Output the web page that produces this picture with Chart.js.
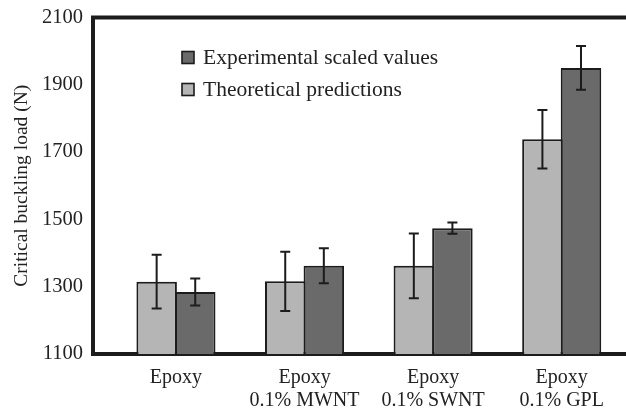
<!DOCTYPE html>
<html>
<head>
<meta charset="utf-8">
<script src="https://cdn.jsdelivr.net/npm/chart.js@4/dist/chart.umd.min.js"></script>
<style>
  html, body { margin: 0; padding: 0; background: #fff; }
  #wrap { width: 626px; height: 408px; position: relative; }
</style>
</head>
<body>
<div id="wrap"><canvas id="c"></canvas></div>
<script>
// Specimen groups
const categories = [
  ['Epoxy'],
  ['Epoxy', '0.1% MWNT'],
  ['Epoxy', '0.1% SWNT'],
  ['Epoxy', '0.1% GPL']
];

// Critical buckling load (N) and error half-widths
const theoretical = [1315, 1316, 1362, 1738];
const theoreticalErr = [80, 88, 96, 87];
const experimental = [1284, 1362, 1474, 1950];
const experimentalErr = [40, 52, 17, 65];

const yTicks = [1100, 1300, 1500, 1700, 1900, 2100];

const INK = '#1c1c1c';
const TEXT = '#222';
const SERIF = '"Liberation Serif", "DejaVu Serif", serif';

const toPoints = vals => vals.map((v, i) => ({ x: i, y: v }));

// Error bars drawn through the y scale
const errorBars = {
  id: 'errorBars',
  afterDatasetsDraw(chart) {
    const ctx = chart.ctx;
    const y = chart.scales.y;
    chart.data.datasets.forEach((ds, di) => {
      const meta = chart.getDatasetMeta(di);
      meta.data.forEach((bar, i) => {
        const v = ds.data[i].y, e = ds.errors[i];
        const yTop = y.getPixelForValue(v + e);
        const yBot = y.getPixelForValue(v - e);
        const cap = 5;
        ctx.save();
        ctx.strokeStyle = INK;
        ctx.lineWidth = 2;
        ctx.beginPath();
        ctx.moveTo(bar.x, yTop); ctx.lineTo(bar.x, yBot);
        ctx.moveTo(bar.x - cap, yTop); ctx.lineTo(bar.x + cap, yTop);
        ctx.moveTo(bar.x - cap, yBot); ctx.lineTo(bar.x + cap, yBot);
        ctx.stroke();
        ctx.restore();
      });
    });
  }
};

// Top frame line and the in-plot legend
const frameAndLegend = {
  id: 'frameAndLegend',
  afterDraw(chart) {
    const ctx = chart.ctx;
    const a = chart.chartArea;
    ctx.save();
    ctx.strokeStyle = INK;
    ctx.lineWidth = 4;
    ctx.beginPath();
    ctx.moveTo(a.left - 2, a.top);
    ctx.lineTo(a.right, a.top);
    ctx.stroke();

    const order = [1, 0];
    const bx = a.left + 89, by0 = a.top + 40, rowH = 32, box = 12;
    ctx.font = '21.5px ' + SERIF;
    ctx.textBaseline = 'middle';
    ctx.textAlign = 'left';
    order.forEach((di, r) => {
      const ds = chart.data.datasets[di];
      const cy = by0 + r * rowH;
      ctx.fillStyle = ds.backgroundColor;
      ctx.fillRect(bx, cy - box / 2, box, box);
      ctx.lineWidth = 1.6;
      ctx.strokeStyle = INK;
      ctx.strokeRect(bx, cy - box / 2, box, box);
      ctx.fillStyle = TEXT;
      ctx.fillText(ds.label, bx + 21, cy + 1);
    });
    ctx.restore();
  }
};

new Chart(document.getElementById('c'), {
  type: 'bar',
  data: {
    datasets: [
      {
        label: 'Theoretical predictions',
        data: toPoints(theoretical),
        errors: theoreticalErr,
        backgroundColor: '#b5b5b5',
        borderColor: INK,
        borderWidth: 2,
        borderSkipped: false
      },
      {
        label: 'Experimental scaled values',
        data: toPoints(experimental),
        errors: experimentalErr,
        backgroundColor: '#6a6a6a',
        borderColor: INK,
        borderWidth: 2,
        borderSkipped: false
      }
    ]
  },
  options: {
    responsive: true,
    maintainAspectRatio: false,
    animation: false,
    devicePixelRatio: 1,
    categoryPercentage: 0.6,
    barPercentage: 1.05,
    layout: { padding: { top: 17.5, right: 0, left: 0, bottom: 0 } },
    plugins: {
      legend: { display: false },
      tooltip: { enabled: false }
    },
    scales: {
      x: {
        type: 'linear',
        offset: false,
        min: -0.645,
        max: 3.5,
        grid: { display: false, drawTicks: false, offset: false },
        border: { display: true, width: 4, color: INK },
        afterBuildTicks(scale) {
          scale.ticks = categories.map((c, i) => ({ value: i }));
        },
        afterFit(scale) {
          scale.height = 54;
          scale.paddingLeft = 0;
          scale.paddingRight = 0;
        },
        ticks: {
          autoSkip: false,
          maxRotation: 0,
          padding: 12,
          color: TEXT,
          font: { family: SERIF, size: 20, lineHeight: 1.15 },
          callback: v => categories[v]
        }
      },
      y: {
        min: 1100,
        max: 2100,
        grid: { display: false, drawTicks: false },
        border: { display: true, width: 4, color: INK },
        afterBuildTicks(scale) {
          scale.ticks = yTicks.map(v => ({ value: v }));
        },
        afterFit(scale) {
          scale.width = 93;
          scale.paddingTop = 0;
          scale.paddingBottom = 0;
        },
        ticks: {
          padding: 10,
          color: TEXT,
          font: { family: SERIF, size: 20.5 },
          callback: v => String(v)
        },
        title: {
          display: true,
          text: 'Critical buckling load (N)',
          color: TEXT,
          font: { family: SERIF, size: 19.5 },
          padding: { top: 10, bottom: 4 }
        }
      }
    }
  },
  plugins: [errorBars, frameAndLegend]
});
</script>
</body>
</html>
